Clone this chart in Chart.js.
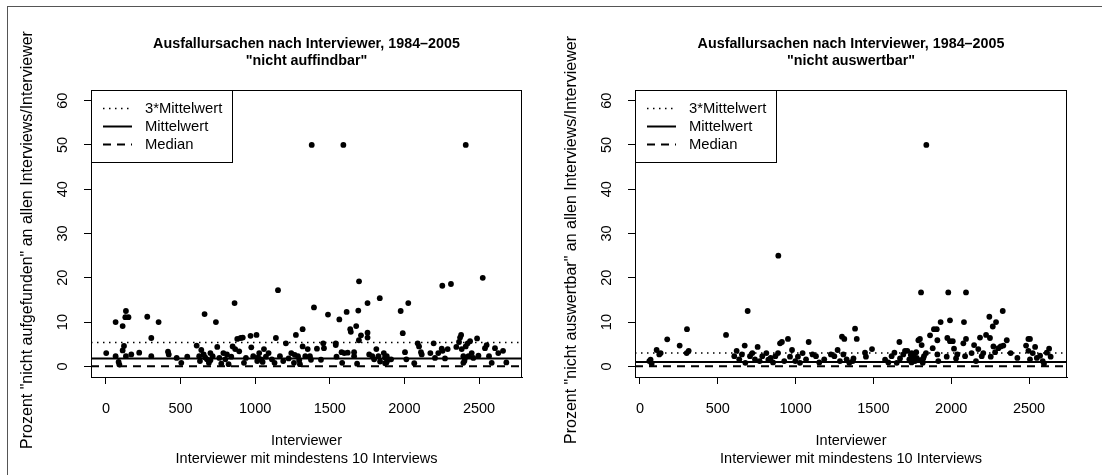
<!DOCTYPE html>
<html>
<head>
<meta charset="utf-8">
<script src="https://cdn.jsdelivr.net/npm/chart.js@4.4.1/dist/chart.umd.min.js"></script>
<style>
  html, body { margin: 0; padding: 0; background: #fff; }
  #wrap { position: relative; width: 1102px; height: 475px; overflow: hidden; }
  #frame { position: absolute; left: 7px; top: 6px; width: 1200px; height: 600px;
           border-left: 1px solid #555; border-top: 1px solid #555; }
  canvas { position: absolute; top: 0; }
  #c1 { left: 0; }
  #c2 { left: 551px; }
</style>
</head>
<body>
<div id="wrap">
  <div id="frame"></div>
  <canvas id="c1" width="551" height="475"></canvas>
  <canvas id="c2" width="551" height="475"></canvas>
</div>
<script>
// ---- data ----
const titleTop = "Ausfallursachen nach Interviewer, 1984\u20132005";
const subtitles = ['"nicht auffindbar"', '"nicht auswertbar"'];
const yLabels = [
  'Prozent "nicht aufgefunden" an allen Interviews/Interviewer',
  'Prozent "nicht auswertbar" an allen Interviews/Interviewer'
];
const xLabel = ["Interviewer", "Interviewer mit mindestens 10 Interviews"];
const legendLabels = ["3*Mittelwert", "Mittelwert", "Median"];
const xTicks = [0, 500, 1000, 1500, 2000, 2500];
const yTicks = [0, 10, 20, 30, 40, 50, 60];

// panel 1: "nicht auffindbar"
const leftX = [
  2, 65, 65, 85, 90, 112, 112, 121, 130, 134,
  134, 151, 170, 223, 277, 304, 304, 353, 416, 421,
  474, 505, 545, 608, 625, 630, 639, 655, 661, 677,
  690, 700, 715, 737, 746, 760, 773, 787, 800, 811,
  822, 840, 849, 862, 866, 880, 893, 903, 917, 925,
  938, 969, 974, 987, 1009, 1014, 1027, 1040, 1059, 1072,
  1090, 1112, 1130, 1139, 1153, 1166, 1188, 1206, 1224, 1242,
  1260, 1273, 1287, 1300, 1318, 1318, 1336, 1352, 1367, 1374,
  1379, 1394, 1414, 1441, 1456, 1461, 1488, 1540, 1540, 1545,
  1564, 1579, 1583, 1591, 1597, 1613, 1620, 1637, 1641, 1663,
  1663, 1677, 1683, 1691, 1695, 1696, 1709, 1753, 1753, 1753,
  1764, 1785, 1797, 1812, 1826, 1835, 1837, 1862, 1871, 1882,
  1893, 1911, 1975, 1989, 2004, 2013, 2026, 2066, 2089, 2098,
  2111, 2116, 2174, 2196, 2205, 2227, 2250, 2254, 2256, 2272,
  2290, 2312, 2348, 2366, 2373, 2380, 2384, 2395, 2402, 2411,
  2411, 2424, 2429, 2440, 2451, 2462, 2487, 2496, 2525, 2540,
  2551, 2567, 2585, 2607, 2629, 2661, 2683, 665, 700, 1020,
  1050, 1265, 1295, 1870, 1880, 2395, 2405
];
const leftY = [
  3.0, 10.0, 2.3, 1.0, 0.4, 9.1, 3.6, 4.6, 11.1, 12.5,
  2.3, 11.1, 2.7, 3.1, 11.2, 6.4, 2.3, 10.0, 3.3, 2.7,
  1.9, 0.8, 2.2, 4.7, 2.3, 1.2, 3.7, 2.7, 11.8, 1.6,
  0.8, 3.0, 2.3, 10.0, 4.4, 1.9, 0.6, 3.0, 1.6, 2.7,
  0.5, 2.2, 4.5, 14.3, 3.9, 6.2, 3.4, 6.4, 6.5, 0.8,
  1.9, 6.9, 4.3, 2.3, 7.1, 1.2, 3.0, 1.6, 3.9, 2.2,
  3.0, 1.6, 0.8, 6.4, 17.2, 2.3, 1.2, 5.2, 1.8, 3.0,
  0.8, 7.1, 2.3, 0.5, 8.4, 4.5, 2.3, 3.9, 2.3, 1.5,
  50, 13.3, 4.0, 1.5, 5.2, 4.1, 11.7, 5.2, 4.8, 2.2,
  10.6, 3.2, 0.8, 50, 3.0, 12.3, 3.1, 8.4, 7.8, 3.2,
  2.3, 9.1, 0.6, 12.6, 5.9, 19.2, 7.0, 14.3, 7.6, 6.5,
  2.7, 2.3, 1.6, 3.9, 2.3, 15.4, 1.1, 3.0, 0.7, 2.3,
  1.5, 1.6, 12.5, 7.5, 3.2, 1.6, 14.3, 0.7, 5.2, 4.5,
  3.2, 2.7, 3.0, 5.2, 1.9, 3.0, 4.0, 18.2, 3.5, 1.8,
  3.9, 18.6, 4.4, 5.5, 6.5, 7.1, 3.9, 2.3, 1.2, 4.5,
  50, 5.2, 2.3, 5.7, 3.0, 1.9, 6.3, 2.4, 20.0, 4.1,
  4.8, 2.3, 0.8, 4.1, 3.0, 3.5, 0.9, 2.0, 1.4, 2.0,
  1.0, 2.6, 1.4, 2.0, 0.9, 0.8, 1.8
];

// panel 2: "nicht auswertbar"
const rightX = [
  60, 68, 75, 107, 124, 133, 175, 255, 300, 302,
  313, 553, 606, 621, 638, 655, 673, 677, 692, 707,
  722, 739, 756, 769, 786, 812, 825, 840, 855, 870,
  887, 889, 900, 912, 927, 951, 964, 977, 998, 1015,
  1028, 1045, 1067, 1084, 1109, 1131, 1152, 1184, 1227, 1249,
  1270, 1285, 1298, 1307, 1313, 1328, 1345, 1367, 1372, 1382,
  1393, 1446, 1452, 1491, 1575, 1596, 1617, 1635, 1650, 1667,
  1671, 1692, 1703, 1718, 1731, 1746, 1757, 1767, 1778, 1789,
  1799, 1806, 1810, 1817, 1825, 1838, 1840, 1864, 1881, 1889,
  1907, 1911, 1911, 1917, 1932, 1971, 1975, 1981, 1992, 1992,
  2010, 2018, 2031, 2039, 2078, 2082, 2089, 2095, 2095, 2131,
  2147, 2159, 2174, 2185, 2196, 2206, 2224, 2245, 2249, 2254,
  2267, 2271, 2282, 2288, 2303, 2318, 2331, 2335, 2357, 2382,
  2425, 2481, 2496, 2496, 2506, 2506, 2524, 2539, 2550, 2571,
  2588, 2596, 2614, 2629, 2639, 1740, 1760, 1775, 1800, 1820,
  1745
];
const rightY = [
  1.2, 1.5, 0.6, 3.7, 2.7, 3.0, 6.1, 4.7, 3.0, 8.4,
  3.5, 7.1, 2.3, 3.5, 1.6, 2.7, 4.7, 0.8, 12.5, 2.3,
  3.0, 1.6, 4.4, 1.2, 2.3, 3.0, 1.5, 1.9, 0.9, 2.3,
  3.0, 25, 5.2, 5.5, 1.2, 6.2, 2.2, 3.7, 1.2, 2.2,
  0.8, 3.0, 1.6, 5.5, 2.7, 2.3, 0.9, 1.6, 2.7, 2.3,
  3.7, 1.2, 6.7, 2.7, 6.2, 1.6, 0.8, 1.2, 1.8, 8.5,
  6.2, 3.1, 2.2, 3.9, 1.5, 0.9, 2.3, 3.1, 0.8, 5.5,
  1.8, 2.7, 3.5, 3.5, 1.6, 3.0, 2.3, 1.2, 1.9, 5.9,
  6.2, 16.7, 4.8, 0.8, 2.3, 3.0, 50, 7.0, 4.1, 8.4,
  8.4, 5.9, 2.7, 1.2, 10.0, 2.2, 6.4, 16.7, 10.4, 5.7,
  5.7, 4.0, 1.8, 2.7, 5.2, 10.0, 2.3, 16.7, 6.2, 3.0,
  4.8, 1.2, 3.9, 6.5, 2.3, 3.0, 7.1, 11.2, 6.4, 2.2,
  9.0, 4.5, 3.2, 10.0, 4.1, 4.5, 12.5, 4.7, 5.9, 3.0,
  1.9, 4.7, 6.2, 3.5, 6.2, 1.6, 3.0, 4.4, 1.9, 2.4,
  1.2, 0.6, 3.1, 4.0, 2.2, 2.6, 1.5, 3.2, 1.4, 1.8,
  0.9
];

// reference lines: [3*Mittelwert, Mittelwert, Median]
const leftStats = [5.4, 1.8, 0];
const rightStats = [3.0, 1.0, 0];

const FAMILY = '"Liberation Sans", Arial, Helvetica, sans-serif';
const lineStyles = [
  { dash: [1.5, 4.5], width: 1.5 },
  { dash: [], width: 2 },
  { dash: [8, 6], width: 2 }
];

const rStyle = {
  id: 'rStyle',
  afterDraw(chart, args, opts) {
    const { ctx, chartArea: a, scales: { y } } = chart;
    ctx.save();
    ctx.strokeStyle = '#000';
    ctx.lineWidth = 1;
    ctx.setLineDash([]);
    ctx.strokeRect(a.left + 0.5, a.top + 0.5, a.right - a.left - 1, a.bottom - a.top);

    // rotated y tick labels
    ctx.fillStyle = '#000';
    ctx.font = '14.5px ' + FAMILY;
    ctx.textAlign = 'center';
    ctx.textBaseline = 'middle';
    yTicks.forEach(v => {
      ctx.save();
      ctx.translate(a.left - 28, y.getPixelForValue(v));
      ctx.rotate(-Math.PI / 2);
      ctx.fillText(String(v), 0, 0);
      ctx.restore();
    });

    // y axis title
    ctx.save();
    ctx.font = '16px ' + FAMILY;
    ctx.translate(a.left - 63, 240);
    ctx.rotate(-Math.PI / 2);
    ctx.fillText(opts.ylab, 0, 0);
    ctx.restore();

    // main title
    const cx = (a.left + a.right) / 2;
    ctx.font = 'bold 14.3px ' + FAMILY;
    ctx.fillText(titleTop, cx, 44);
    ctx.fillText(opts.sub, cx, 61.5);

    // legend box
    const lw = 141, lh = 72;
    ctx.fillStyle = '#fff';
    ctx.fillRect(a.left + 0.5, a.top + 0.5, lw, lh);
    ctx.strokeRect(a.left + 0.5, a.top + 0.5, lw, lh);
    ctx.font = '14.8px ' + FAMILY;
    ctx.textAlign = 'left';
    const rows = [17.5, 36, 54];
    legendLabels.forEach((lab, i) => {
      const ry = Math.round(a.top + rows[i]) + 0.5;
      ctx.strokeStyle = '#000';
      ctx.lineWidth = lineStyles[i].width;
      ctx.setLineDash(lineStyles[i].dash);
      ctx.beginPath();
      ctx.moveTo(a.left + 12, ry);
      ctx.lineTo(a.left + 41, ry);
      ctx.stroke();
      ctx.setLineDash([]);
      ctx.fillStyle = '#000';
      ctx.fillText(lab, a.left + 54, ry);
    });
    ctx.restore();
  }
};

function makePanel(id, xs, ys, stats, xMin, xMax, areaLeft, areaRight, yLabel, sub) {
  const points = xs.map((v, i) => ({ x: v, y: ys[i] }));
  const lines = stats.map((v, i) => ({
    type: 'line',
    data: [{ x: xMin, y: v }, { x: xMax, y: v }],
    borderColor: '#000',
    borderWidth: lineStyles[i].width,
    borderDash: lineStyles[i].dash,
    pointRadius: 0,
    fill: false
  }));
  const tickGrid = {
    display: true, drawOnChartArea: false, drawTicks: true,
    tickLength: 7, color: '#000', tickColor: '#000', lineWidth: 1
  };
  new Chart(document.getElementById(id), {
    type: 'scatter',
    data: {
      datasets: [
        { data: points, backgroundColor: '#000', borderWidth: 0, pointRadius: 2.9 },
        ...lines
      ]
    },
    options: {
      responsive: false,
      animation: false,
      layout: { padding: { left: 0, right: 551 - areaRight, top: 90, bottom: 0 } },
      plugins: {
        legend: { display: false },
        tooltip: { enabled: false },
        rStyle: { sub: sub, ylab: yLabel }
      },
      scales: {
        x: {
          type: 'linear', min: xMin, max: xMax,
          afterBuildTicks: s => { s.ticks = xTicks.map(v => ({ value: v })); },
          afterFit: s => { s.height = 98; },
          grid: tickGrid,
          border: { display: true, color: '#000', width: 1 },
          ticks: {
            color: '#000', padding: 16, maxRotation: 0, autoSkip: false,
            font: { family: FAMILY, size: 14.5 },
            callback: v => String(v)
          },
          title: {
            display: true, text: xLabel, color: '#000',
            font: { family: FAMILY, size: 14.5, lineHeight: '18px' },
            padding: { top: 0, bottom: 7 }
          }
        },
        y: {
          type: 'linear', min: -2.4, max: 62.4,
          afterBuildTicks: s => { s.ticks = yTicks.map(v => ({ value: v })); },
          afterFit: s => { s.width = areaLeft; },
          grid: tickGrid,
          border: { display: true, color: '#000', width: 1 },
          ticks: { display: false },
          title: { display: false }
        }
      }
    },
    plugins: [rStyle]
  });
}

makePanel('c1', leftX, leftY, leftStats, -100, 2788, 91, 522, yLabels[0], subtitles[0]);
makePanel('c2', rightX, rightY, rightStats, -32, 2744, 84, 516, yLabels[1], subtitles[1]);
</script>
</body>
</html>
